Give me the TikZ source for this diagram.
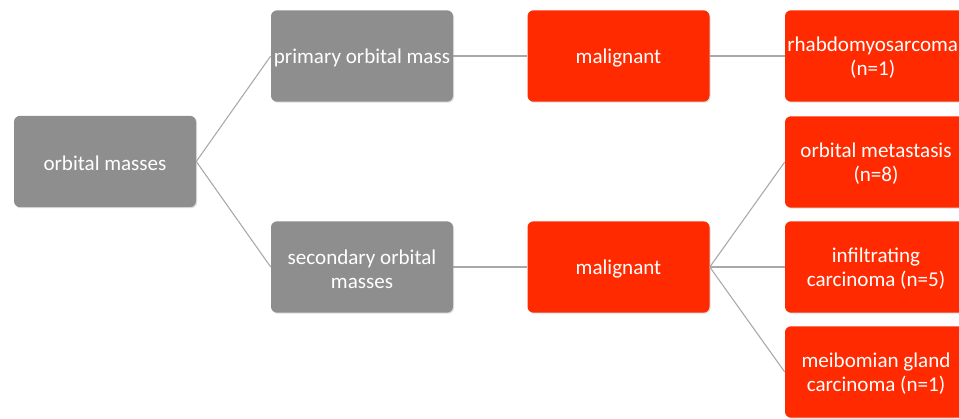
\documentclass[tikz,border=0pt]{standalone}
\usepackage{fontspec}
\setmainfont{Carlito}
\usetikzlibrary{shadows}
\definecolor{boxgray}{HTML}{8E8E8E}
\definecolor{boxred}{HTML}{FF2A00}
\definecolor{linegray}{HTML}{A8A8A8}
\tikzset{
  basebox/.style={rounded corners=4.5pt, minimum width=136.5pt, minimum height=68.5pt,
    inner sep=0pt,
    drop shadow={opacity=0.25, shadow xshift=0.8pt, shadow yshift=-0.8pt}},
  graybox/.style={basebox, fill=boxgray},
  redbox/.style={basebox, fill=boxred},
  boxtext/.style={text=white, align=center, font=\fontsize{15.8}{18.2}\selectfont, inner sep=0pt},
  link/.style={draw=linegray, line width=0.8pt}
}
\begin{document}
\begin{tikzpicture}[x=0.75pt,y=-0.75pt]
\useasboundingbox (0,0) rectangle (959,418);
\clip (0,0) rectangle (959,418);
\fill[white] (0,0) rectangle (959,418);
\node[graybox] (om) at (105,161.5) {};
\node[graybox] (pom) at (362,56) {};
\node[graybox] (som) at (362,267) {};
\node[redbox] (mal1) at (618.5,56) {};
\node[redbox] (mal2) at (618.5,267) {};
\node[redbox] (rh) at (876,56) {};
\node[redbox] (met) at (876,162) {};
\node[redbox] (inf) at (876,267) {};
\node[redbox] (mei) at (876,372) {};
\node[boxtext] (omt) at ([yshift=-1.5pt]om.center) {orbital masses};
\node[boxtext] (pomt) at ([yshift=-1.5pt]pom.center) {primary orbital mass};
\node[boxtext] (somt) at ([yshift=-1.5pt]som.center) {secondary orbital\\masses};
\node[boxtext] (mal1t) at ([yshift=-1.5pt]mal1.center) {malignant};
\node[boxtext] (mal2t) at ([yshift=-1.5pt]mal2.center) {malignant};
\node[boxtext] (rht) at ([xshift=-2.5pt,yshift=-1.5pt]rh.center) {rhabdomyosarcoma\\(n=1)};
\node[boxtext] (mett) at ([yshift=-1.5pt]met.center) {orbital metastasis\\(n=8)};
\node[boxtext] (inft) at ([yshift=-1.5pt]inf.center) {infiltrating\\carcinoma (n=5)};
\node[boxtext] (meit) at ([yshift=-1.5pt]mei.center) {meibomian gland\\carcinoma (n=1)};
\draw[link] (om.east) -- (pom.west);
\draw[link] (om.east) -- (som.west);
\draw[link] (pom.east) -- (mal1.west);
\draw[link] (som.east) -- (mal2.west);
\draw[link] (mal1.east) -- (rh.west);
\draw[link] (mal2.east) -- (met.west);
\draw[link] (mal2.east) -- (inf.west);
\draw[link] (mal2.east) -- (mei.west);
\end{tikzpicture}
\end{document}
